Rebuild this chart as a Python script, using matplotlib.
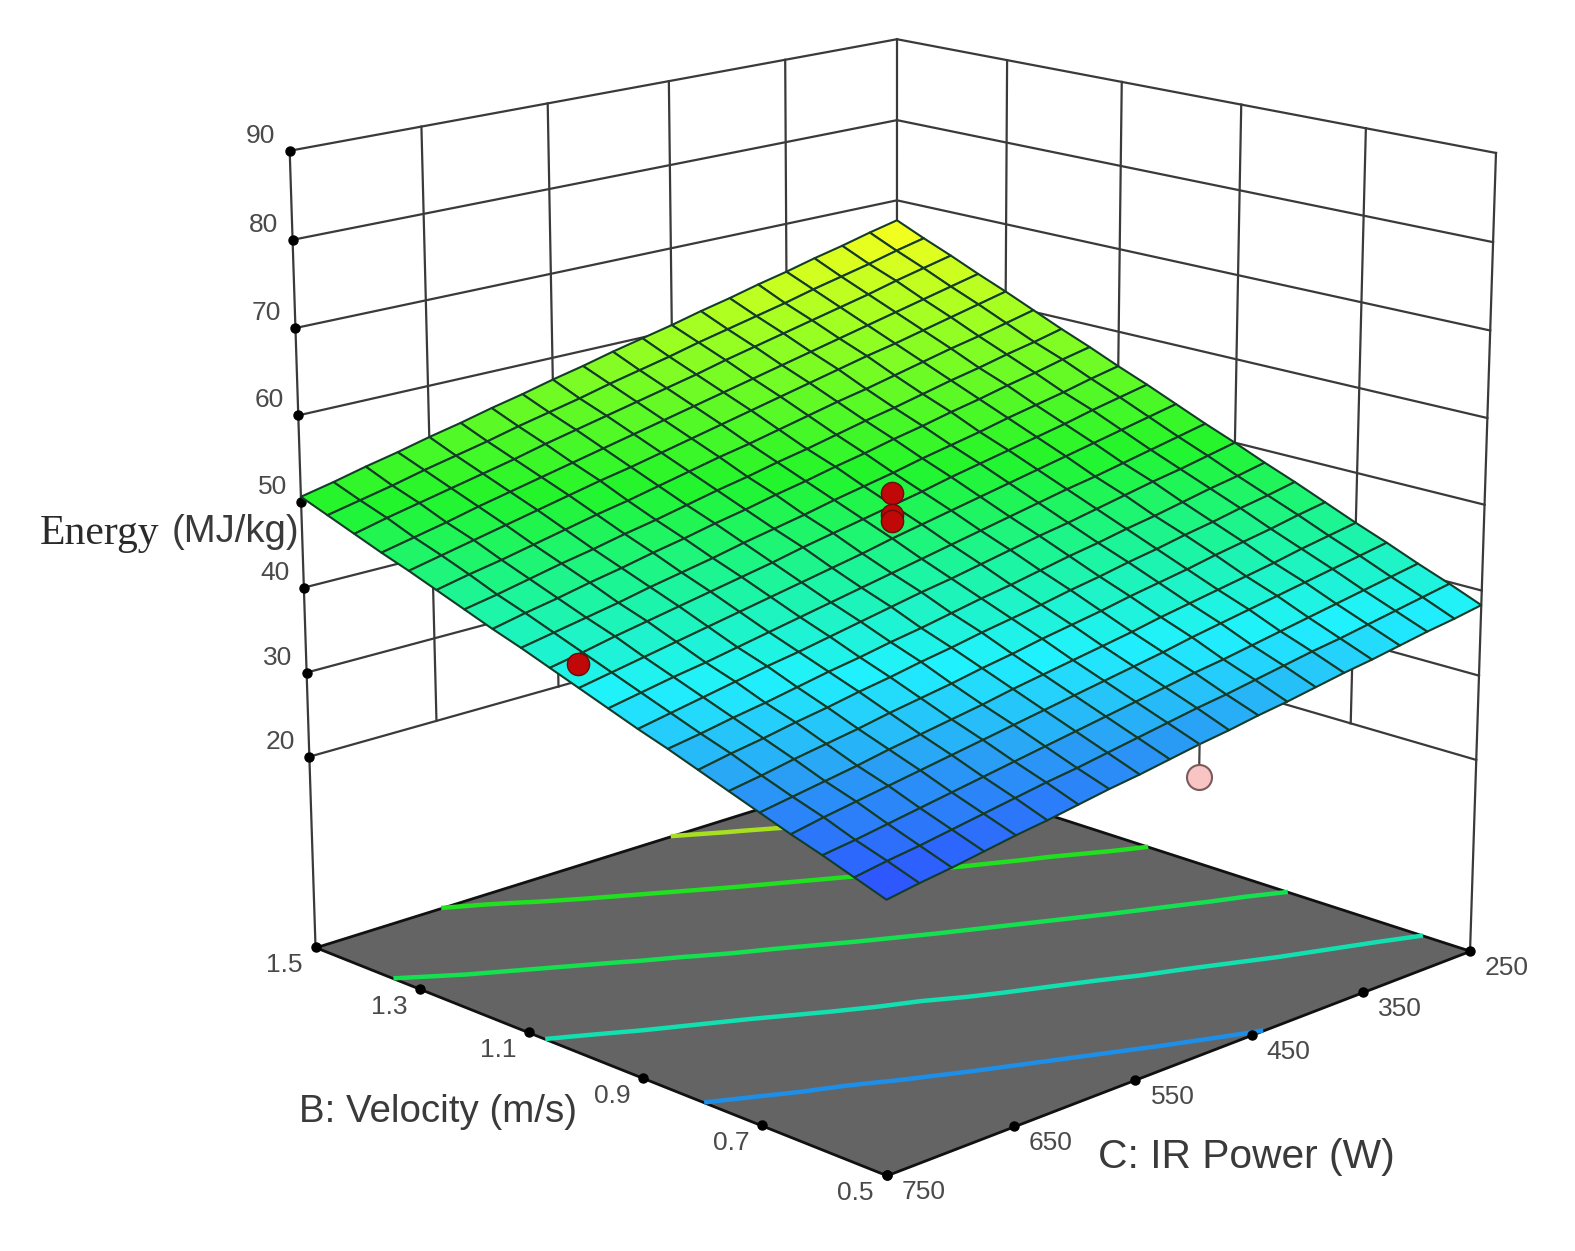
import matplotlib
matplotlib.use("Agg")
import matplotlib.pyplot as plt
import numpy as np
from matplotlib.colors import LinearSegmentedColormap, Normalize
from mpl_toolkits.mplot3d import proj3d
from mpl_toolkits.mplot3d.art3d import Poly3DCollection

# ---------- data ----------
velocity = [0.50, 0.55, 0.60, 0.65, 0.70, 0.75, 0.80, 0.85, 0.90, 0.95, 1.00,
            1.05, 1.10, 1.15, 1.20, 1.25, 1.30, 1.35, 1.40, 1.45, 1.50]
power = [250, 275, 300, 325, 350, 375, 400, 425, 450, 475, 500,
         525, 550, 575, 600, 625, 650, 675, 700, 725, 750]
energy = [
 [38.3,37.7,37.2,36.6,36.0,35.5,34.9,34.3,33.8,33.2,32.7,32.1,31.5,31.0,30.4,29.8,29.3,28.7,28.1,27.6,27.0],
 [39.8,39.2,38.6,38.0,37.4,36.9,36.3,35.7,35.1,34.6,34.0,33.4,32.8,32.2,31.7,31.1,30.5,29.9,29.3,28.8,28.2],
 [41.2,40.6,40.0,39.4,38.8,38.2,37.6,37.0,36.5,35.9,35.3,34.7,34.1,33.5,32.9,32.3,31.7,31.1,30.5,29.9,29.4],
 [42.7,42.1,41.5,40.9,40.3,39.7,39.1,38.5,37.8,37.2,36.6,36.0,35.4,34.8,34.2,33.6,33.0,32.4,31.8,31.2,30.5],
 [44.1,43.5,42.9,42.2,41.6,41.0,40.4,39.8,39.1,38.5,37.9,37.3,36.7,36.0,35.4,34.8,34.2,33.5,32.9,32.3,31.7],
 [45.6,45.0,44.3,43.7,43.1,42.4,41.8,41.2,40.5,39.9,39.3,38.6,38.0,37.3,36.7,36.1,35.4,34.8,34.2,33.5,32.9],
 [47.1,46.4,45.8,45.1,44.5,43.8,43.2,42.5,41.9,41.2,40.6,40.0,39.3,38.7,38.0,37.4,36.7,36.1,35.4,34.8,34.1],
 [48.5,47.8,47.2,46.5,45.8,45.2,44.5,43.9,43.2,42.5,41.9,41.2,40.5,39.9,39.2,38.6,37.9,37.2,36.6,35.9,35.3],
 [50.0,49.3,48.6,48.0,47.3,46.6,45.9,45.3,44.6,43.9,43.2,42.6,41.9,41.2,40.5,39.8,39.2,38.5,37.8,37.1,36.4],
 [51.4,50.7,50.0,49.3,48.6,48.0,47.3,46.6,45.9,45.2,44.5,43.8,43.1,42.4,41.7,41.0,40.3,39.6,39.0,38.3,37.6],
 [52.9,52.2,51.5,50.8,50.1,49.4,48.7,48.0,47.3,46.6,45.9,45.1,44.4,43.7,43.0,42.3,41.6,40.9,40.2,39.5,38.8],
 [54.4,53.7,53.0,52.2,51.5,50.8,50.1,49.4,48.6,47.9,47.2,46.5,45.8,45.0,44.3,43.6,42.9,42.2,41.5,40.7,40.0],
 [55.8,55.1,54.3,53.6,52.9,52.1,51.4,50.7,49.9,49.2,48.5,47.7,47.0,46.3,45.5,44.8,44.1,43.3,42.6,41.9,41.2],
 [57.3,56.6,55.8,55.1,54.3,53.6,52.8,52.1,51.3,50.6,49.8,49.1,48.3,47.6,46.8,46.1,45.3,44.6,43.8,43.1,42.3],
 [58.7,57.9,57.2,56.4,55.7,54.9,54.1,53.4,52.6,51.8,51.1,50.3,49.6,48.8,48.0,47.3,46.5,45.8,45.0,44.2,43.5],
 [60.2,59.4,58.6,57.9,57.1,56.3,55.5,54.8,54.0,53.2,52.4,51.7,50.9,50.1,49.3,48.6,47.8,47.0,46.2,45.5,44.7],
 [61.7,60.9,60.1,59.3,58.5,57.8,57.0,56.2,55.4,54.6,53.8,53.0,52.2,51.4,50.7,49.9,49.1,48.3,47.5,46.7,45.9],
 [63.1,62.3,61.5,60.7,59.9,59.1,58.3,57.5,56.7,55.9,55.1,54.3,53.5,52.7,51.9,51.1,50.3,49.5,48.6,47.8,47.0],
 [64.6,63.8,63.0,62.1,61.3,60.5,59.7,58.9,58.1,57.2,56.4,55.6,54.8,54.0,53.2,52.3,51.5,50.7,49.9,49.1,48.2],
 [66.0,65.2,64.3,63.5,62.7,61.8,61.0,60.2,59.4,58.5,57.7,56.9,56.0,55.2,54.4,53.5,52.7,51.9,51.0,50.2,49.4],
 [67.5,66.7,65.8,65.0,64.1,63.3,62.4,61.6,60.7,59.9,59.1,58.2,57.4,56.5,55.7,54.8,54.0,53.1,52.3,51.4,50.6],
]
z_ticks = [20, 30, 40, 50, 60, 70, 80, 90]
b_ticks = [1.5, 1.3, 1.1, 0.9, 0.7, 0.5]
c_ticks = [750, 650, 550, 450, 350, 250]
z_floor = -3
contour_levels = [34, 40.5, 47, 54, 60.5]
contour_colors = ['#1e8fe8', '#12e0b0', '#14e050', '#20e020', '#a8e020']
point_b = [1.0, 1.0, 1.0, 1.0]
point_c = [500, 500, 500, 750]
point_z = [51.2, 48.6, 48.0, 41.5]
low_b, low_c, low_z, low_surface = 0.5, 500, 29.0, 32.7

# ---------- figure ----------
fig = plt.figure(figsize=(15.75, 12.51), dpi=100, facecolor='white')
ax = fig.add_axes([-0.0497, -0.2229, 1.2, 1.511], projection='3d', computed_zorder=False)
ax.set_proj_type('persp', focal_length=0.52)
ax.view_init(elev=16.3, azim=45.5)
ax.set_box_aspect((1, 1, 0.995), zoom=0.741)
ax.set_xlim(250, 750)
ax.set_ylim(1.5, 0.5)
ax.set_zlim(z_floor, 90)
ax.set_axis_off()
ax.patch.set_alpha(0)

X, Y = np.meshgrid(power, velocity)
Z = np.array(energy)

wall = dict(color='#3a3a3a', lw=1.6, zorder=1)
c_lo, c_hi, b_lo, b_hi, z_hi = min(power), max(power), min(velocity), max(velocity), max(z_ticks)
z_lo = min(z_ticks)
# back walls
for z in z_ticks:
    ax.plot([c_hi, c_lo], [b_hi, b_hi], [z, z], **wall)
    ax.plot([c_lo, c_lo], [b_hi, b_lo], [z, z], **wall)
for c in c_ticks[1:-1]:
    ax.plot([c, c], [b_hi, b_hi], [z_lo, z_hi], **wall)
for b in b_ticks[1:-1]:
    ax.plot([c_lo, c_lo], [b, b], [z_lo, z_hi], **wall)
ax.plot([c_hi, c_hi], [b_hi, b_hi], [z_floor, z_hi], **wall)
ax.plot([c_lo, c_lo], [b_lo, b_lo], [z_floor, z_hi], **wall)
ax.plot([c_lo, c_lo], [b_hi, b_hi], [z_floor, z_hi], **wall)

# floor
floor = Poly3DCollection([[(c_lo, b_hi, z_floor), (c_hi, b_hi, z_floor),
                           (c_hi, b_lo, z_floor), (c_lo, b_lo, z_floor)]],
                         facecolor='#646464', edgecolor='#111111', linewidth=2, zorder=2)
ax.add_collection3d(floor)
ax.contour(X, Y, Z, levels=contour_levels, colors=contour_colors, linewidths=3.2,
           zdir='z', offset=z_floor, zorder=3)

# tick dots
dot = dict(color='black', marker='o', ms=6.5, ls='none', zorder=4)
ax.plot([c_hi] * len(z_ticks), [b_hi] * len(z_ticks), z_ticks, **dot)
ax.plot([c_hi] * len(b_ticks), b_ticks, [z_floor] * len(b_ticks), **dot)
ax.plot(c_ticks, [b_lo] * len(c_ticks), [z_floor] * len(c_ticks), **dot)

# surface
cmap = LinearSegmentedColormap.from_list('de', [(0, '#2f4dff'), (0.15, '#2a9cf5'), (0.28, '#20f2ff'),
                                                (0.42, '#1cf59a'), (0.57, '#22f52a'),
                                                (0.81, '#9cff22'), (1, '#ffff1e')])
norm = Normalize(27, 67.5)
corner_mean = (Z[:-1, :-1] + Z[1:, :-1] + Z[:-1, 1:] + Z[1:, 1:]) / 4
ax.plot_surface(X, Y, Z, rstride=1, cstride=1, facecolors=cmap(norm(corner_mean)), shade=False,
                edgecolor='#143c28', linewidth=1.5, antialiased=True, zorder=5)

# design points
ax.plot([low_c, low_c], [low_b, low_b], [low_z, low_surface], color='#444444', lw=1.6, zorder=6)
ax.plot([low_c], [low_b], [low_z], marker='o', ms=18, mfc='#f9c4c4', mec='#7a5a5a', mew=1.5,
        ls='none', zorder=6)
ax.plot(point_c, point_b, point_z, marker='o', ms=16, mfc='#c00808', mec='#6a0a0a', mew=1,
        ls='none', zorder=7)

# labels
M = ax.get_proj()
def label(x, y, z, text, dx, dy):
    px, py, _ = proj3d.proj_transform(x, y, z, M)
    ax.annotate(text, (px, py), xytext=(dx, dy), textcoords='offset pixels', annotation_clip=False,
                ha='center', va='center', fontsize=19, color='#4a4a4a', family='Liberation Sans',
                zorder=10)
for z in z_ticks:
    label(c_hi, b_hi, z, str(z), -29, 15)
for b in b_ticks:
    label(c_hi, b, z_floor, f'{b:.1f}', -31, -18)
for c in c_ticks:
    label(c, b_lo, z_floor, str(c), 37, -17)

fig.text(0.0254, 0.573, 'Energy', family='Liberation Serif', fontsize=30, color='#2a2a2a', va='center')
fig.text(0.109, 0.575, '(MJ/kg)', family='Liberation Sans', fontsize=27.5, color='#3a3a3a', va='center')
fig.text(0.19, 0.111, 'B: Velocity (m/s)', family='Liberation Sans', fontsize=27.7, color='#3a3a3a', va='center')
fig.text(0.697, 0.075, 'C: IR Power (W)', family='Liberation Sans', fontsize=29.3, color='#3a3a3a', va='center')

fig.savefig('out.png', dpi=100, facecolor='white')
